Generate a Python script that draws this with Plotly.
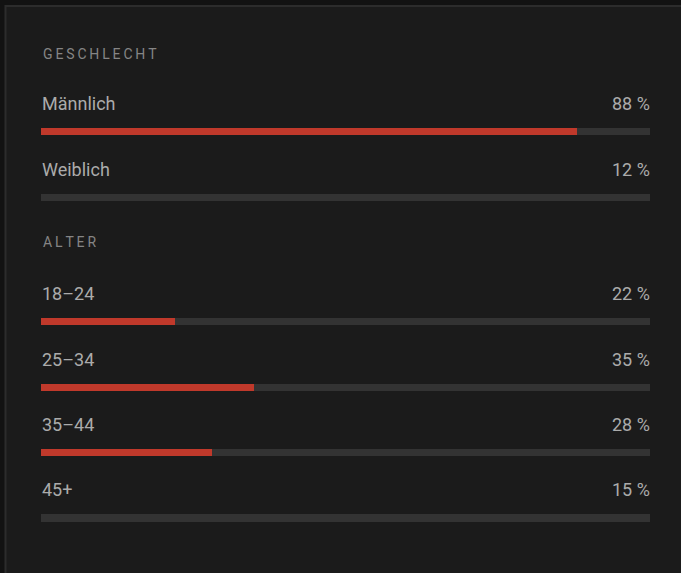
import plotly.graph_objects as go

# ---- data ----
sections = ["GESCHLECHT", "ALTER"]
section_y = [54, 242]
categories = ["Männlich", "Weiblich", "18–24", "25–34", "35–44", "45+"]
values = [88, 12, 22, 35, 28, 15]
filled = [True, False, True, True, True, False]
row_y = [131.5, 197.5, 321.5, 387.5, 452.5, 518]

W, H = 681, 573
L, R = 41, 650
RED = "#c0392b"
TRACK = "#333333"
BG = "#1b1b1b"
OUTER = "#121212"
BORDER = "#2c2c2c"
LABEL = "#ababab"
HEAD = "#858585"
FONT = "Roboto"

fig = go.Figure()

# tracks
fig.add_trace(go.Bar(
    y=row_y, x=[100] * len(values), orientation="h", width=7.5,
    marker=dict(color=TRACK, line=dict(width=0)), hoverinfo="skip",
    showlegend=False))
# fills
fig.add_trace(go.Bar(
    y=row_y, x=values, orientation="h", width=7.5,
    marker=dict(color=[RED if f else TRACK for f in filled], line=dict(width=0)),
    showlegend=False))

ann = []
spaced = lambda s: "\u2009".join(s)
for s, y in zip(sections, section_y):
    ann.append(dict(x=0, y=y, xref="x", yref="y", text=spaced(s), showarrow=False,
                    xanchor="left", yanchor="middle", xshift=0,
                    font=dict(family=FONT, size=14, color=HEAD)))
for c, v, y in zip(categories, values, row_y):
    ann.append(dict(x=0, y=y - 28.5, xref="x", yref="y", text=c, showarrow=False,
                    xanchor="left", yanchor="middle", xshift=-1,
                    font=dict(family=FONT, size=18, color=LABEL)))
    ann.append(dict(x=100, y=y - 28.5, xref="x", yref="y", text=f"{v} %", showarrow=False,
                    xanchor="right", yanchor="middle", xshift=2,
                    font=dict(family=FONT, size=18, color=LABEL)))

pw = R - L
px = lambda p: (p - L) / pw
shapes = [
    dict(type="rect", xref="paper", yref="paper", x0=px(5.5), x1=px(W + 10),
         y0=1 - 6 / H, y1=-0.1,
         fillcolor=BG, line=dict(color=BORDER, width=2), layer="below"),
]

fig.update_layout(
    width=W, height=H,
    margin=dict(l=L, r=W - R, t=0, b=0, pad=0),
    paper_bgcolor=OUTER, plot_bgcolor="rgba(0,0,0,0)",
    barmode="overlay", bargap=0,
    xaxis=dict(range=[0, 100], visible=False, fixedrange=True),
    yaxis=dict(range=[H, 0], visible=False, fixedrange=True),
    annotations=ann, shapes=shapes,
    font=dict(family=FONT),
)

fig.write_html(
    "out.html",
    config={"displayModeBar": False},
    post_script="document.body.style.margin='0';document.body.style.background='#121212';",
)
